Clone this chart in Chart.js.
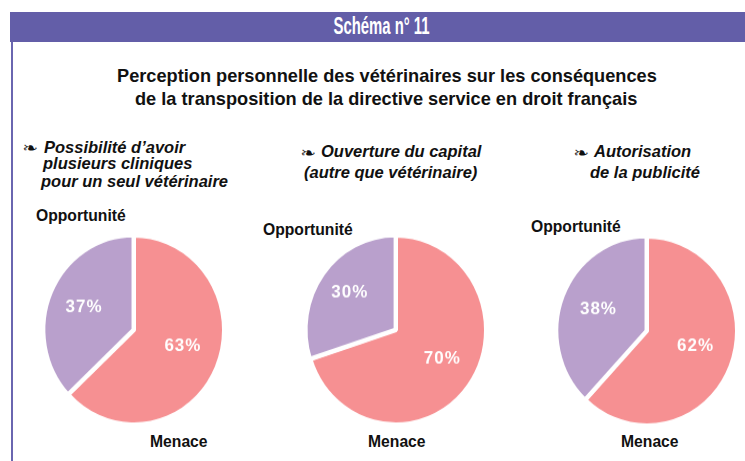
<!DOCTYPE html>
<html lang="fr"><head><meta charset="utf-8">
<script src="https://cdn.jsdelivr.net/npm/chart.js@4"></script>
<style>
html,body{margin:0;padding:0;background:#fff;width:745px;height:461px;overflow:hidden}
body{position:relative;font-family:"Liberation Sans",Arial,sans-serif;color:#111}
#bar{position:absolute;left:10px;top:12px;width:735px;height:30px;background:#635ea8;color:#fff;
 font:bold 24px "Liberation Sans Narrow","Liberation Sans",sans-serif;text-align:center;line-height:28px}
#bar span{display:inline-block;transform:translateX(4px) scaleX(.62)}
#rule{position:absolute;left:11px;top:42px;width:1.5px;height:419px;background:#6a66b0}
.t{position:absolute;white-space:nowrap;font-weight:bold}
.m{font-size:18.2px;line-height:20px}
.s{font-size:16.5px;font-style:italic;line-height:18px}
.l{font-size:15.7px;line-height:16px}
.o{position:absolute;white-space:nowrap;font:15px/18px "DejaVu Sans",sans-serif;transform:scaleX(1.25);transform-origin:0 50%}
canvas{position:absolute;left:0;top:0}
.c{position:absolute}
</style></head><body>
<div id="bar"><span>Schéma n° 11</span></div>
<div id="rule"></div>
<div class="t m" style="left:117px;top:66px">Perception personnelle des vétérinaires sur les conséquences</div>
<div class="t m" style="left:135px;top:89px">de la transposition de la directive service en droit français</div>

<div class="o" style="left:22px;top:139px">❧</div>
<div class="t s" style="left:44px;top:138px">Possibilité d’avoir</div>
<div class="t s" style="left:43px;top:154px">plusieurs cliniques</div>
<div class="t s" style="left:41px;top:172px">pour un seul vétérinaire</div>
<div class="o" style="left:300px;top:144px">❧</div>
<div class="t s" style="left:321px;top:142px">Ouverture du capital</div>
<div class="t s" style="left:304px;top:163px">(autre que vétérinaire)</div>
<div class="o" style="left:573px;top:144px">❧</div>
<div class="t s" style="left:594px;top:142px">Autorisation</div>
<div class="t s" style="left:590px;top:163px">de la publicité</div>

<div class="t l" style="left:36px;top:208px">Opportunité</div>
<div class="t l" style="left:150px;top:434px">Menace</div>
<div class="t l" style="left:263px;top:222px">Opportunité</div>
<div class="t l" style="left:368px;top:434px">Menace</div>
<div class="t l" style="left:531px;top:219px">Opportunité</div>
<div class="t l" style="left:621px;top:434px">Menace</div>

<div class="c" style="left:34px;top:225px;width:200px;height:210px"><canvas id="p1"></canvas></div>
<div class="c" style="left:296px;top:225px;width:200px;height:210px"><canvas id="p2"></canvas></div>
<div class="c" style="left:547px;top:226px;width:200px;height:210px"><canvas id="p3"></canvas></div>

<script>
const categories = ["Menace", "Opportunité"];
const capitalValues = [70, 30];
const cliniquesValues = [63, 37];
const publiciteValues = [62, 38];
const sliceColors = ["#f69092", "#b9a0cc"];

const percentLabels = {
  id: "percentLabels",
  afterDatasetsDraw(chart, args, opts) {
    const ctx = chart.ctx, meta = chart.getDatasetMeta(0);
    ctx.save();
    ctx.fillStyle = "#fff";
    ctx.font = 'bold 17px "Liberation Sans", sans-serif';
    ctx.textAlign = "center";
    ctx.textBaseline = "middle";
    if ("letterSpacing" in ctx) ctx.letterSpacing = "1px";
    meta.data.forEach((arc, i) => {
      const p = arc.getProps(["x", "y", "startAngle", "endAngle", "outerRadius"], true);
      const mid = (p.startAngle + p.endAngle) / 2;
      const r = p.outerRadius * 0.58;
      const n = opts.nudge[i];
      ctx.fillText(chart.data.datasets[0].data[i] + "%",
        p.x + Math.cos(mid) * r + n[0], p.y + Math.sin(mid) * r - 1 + n[1]);
    });
    ctx.restore();
  }
};

function pie(id, values, nudge) {
  new Chart(document.getElementById(id), {
    type: "pie",
    data: { labels: categories, datasets: [{ data: values, backgroundColor: sliceColors,
      borderColor: "#fff", borderWidth: 4, offset: [0, 2], hoverOffset: 0 }] },
    options: { responsive: false, animation: false, radius: 90,
      layout: { padding: 0 },
      plugins: { legend: { display: false }, tooltip: { enabled: false }, percentLabels: { nudge } } },
    plugins: [percentLabels]
  });
}
for (const id of ["p1", "p2", "p3"]) {
  const el = document.getElementById(id);
  el.width = 200; el.height = 200;
}
pie("p1", cliniquesValues, [[1, -4], [-2, 0]]);
pie("p2", capitalValues, [[4, -2], [-4, -4]]);
pie("p3", publiciteValues, [[0, -4], [0, 0]]);
// the source pies are slightly taller than wide
for (const id of ["p1", "p2", "p3"]) {
  const el = document.getElementById(id);
  el.style.width = "200px"; el.style.height = "210px";
}
</script>
</body></html>
